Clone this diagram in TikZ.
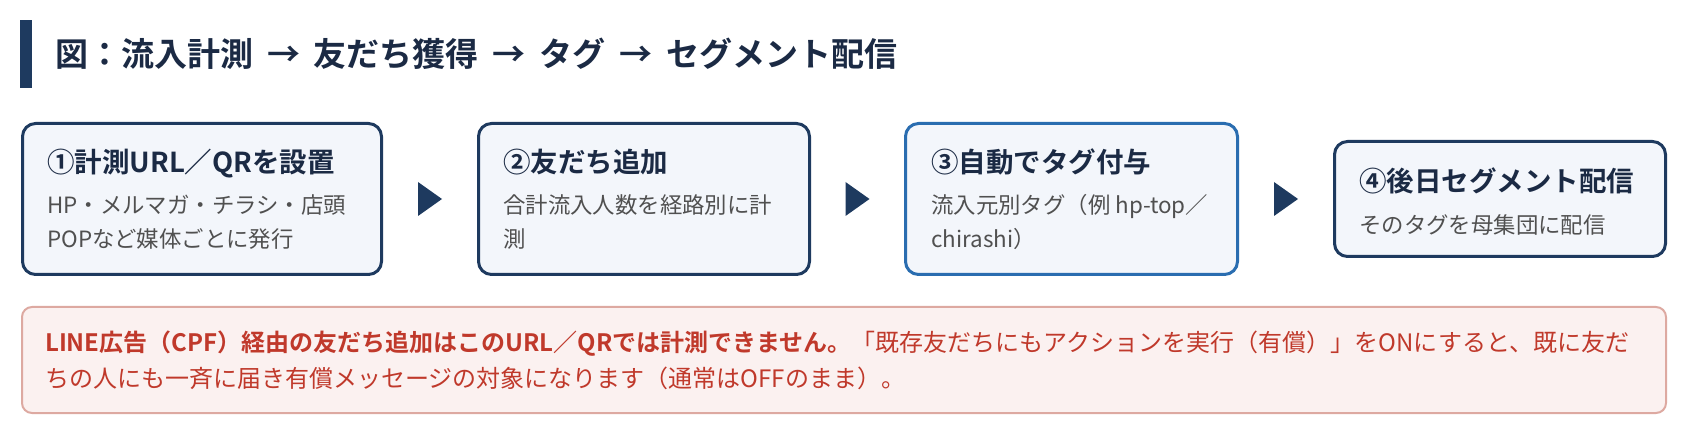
\documentclass[tikz,border=0pt]{standalone}
\usepackage{fontspec}
\setmainfont{Noto Sans CJK JP}[BoldFont={Noto Sans CJK JP Bold}]
\usetikzlibrary{calc}
\definecolor{navy}{HTML}{1E3A5F}
\definecolor{stepblue}{HTML}{2A6DB0}
\definecolor{stepfill}{HTML}{F3F6FB}
\definecolor{headtext}{HTML}{1B2A44}
\definecolor{bodytext}{HTML}{505050}
\definecolor{notefill}{HTML}{FBF1F0}
\definecolor{noteline}{HTML}{DDA9A1}
\definecolor{notered}{HTML}{C0392B}
\newcommand\flowarrow{\hspace{0.42em}→\hspace{0.42em}}
\begin{document}
\begin{tikzpicture}[x=1pt,y=-1pt,
    stepbox/.style={draw=navy,line width=3pt,fill=stepfill,rounded corners=13pt,minimum height=151pt,inner sep=0pt},
    head/.style={anchor=base west,inner sep=0pt,text=headtext,font=\fontsize{27.5}{34}\selectfont\bfseries},
    body/.style={anchor=base west,inner sep=0pt,text=bodytext,align=left,font=\fontsize{22.4}{33.6}\selectfont}]
    \useasboundingbox (0,0) rectangle (1688,435);
    \fill[navy] (20,20) rectangle (32,88);
    \node (title) at (55,66.5) [anchor=base west,inner sep=0pt,text=headtext,font=\fontsize{33}{40}\selectfont\bfseries] {図：流入計測\flowarrow 友だち獲得\flowarrow タグ\flowarrow セグメント配信};
    \node (step1) at (202,199) [stepbox,minimum width=359pt] {};
    \node (step2) at (644,199) [stepbox,minimum width=331pt] {};
    \node (step3) at (1071.5,199) [stepbox,draw=stepblue,minimum width=332pt] {};
    \node (step4) at (1500,199) [stepbox,minimum width=331pt,minimum height=115pt] {};
    \node (head1) at (47,173) [head] {①計測URL／QRを設置};
    \node (body1) at (47,247.5) [body] {HP・メルマガ・チラシ・店頭\\POPなど媒体ごとに発行};
    \node (head2) at (503,173) [head] {②友だち追加};
    \node (body2) at (503,247.5) [body] {合計流入人数を経路別に計\\測};
    \node (head3) at (931,173) [head] {③自動でタグ付与};
    \node (body3) at (931,247.5) [body] {流入元別タグ（例 hp-top／\\chirashi）};
    \node (head4) at (1359,192) [head] {④後日セグメント配信};
    \node (body4) at (1359,233.5) [body] {そのタグを母集団に配信};
    \foreach \a/\b in {step1/step2,step2/step3,step3/step4}
        \fill[navy] ($(\a.east)!0.5!(\b.west)+(-12,-17)$) -- ($(\a.east)!0.5!(\b.west)+(12,0)$) -- ($(\a.east)!0.5!(\b.west)+(-12,17)$) -- cycle;
    \node (note) at (844,360) [draw=noteline,line width=2pt,fill=notefill,rounded corners=10pt,minimum width=1644pt,minimum height=106pt,inner sep=0pt] {};
    \node (notetext) at (45,387) [anchor=base west,inner sep=0pt,text=notered,align=left,font=\fontsize{24}{36}\selectfont] {{\bfseries LINE広告（CPF）経由の友だち追加はこのURL／QRでは計測できません。}「既存友だちにもアクションを実行（有償）」をONにすると、既に友だ\\ちの人にも一斉に届き有償メッセージの対象になります（通常はOFFのまま）。};
\end{tikzpicture}
\end{document}
